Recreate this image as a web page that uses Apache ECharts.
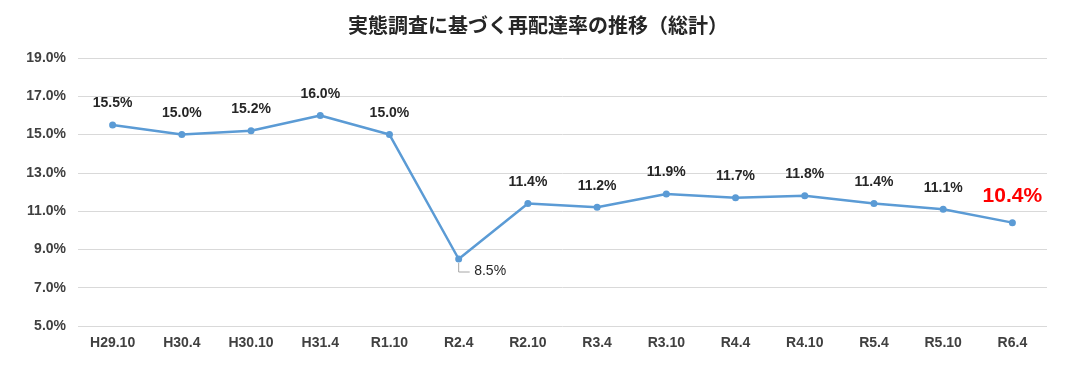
<!DOCTYPE html>
<html><head><meta charset="utf-8">
<script src="https://cdn.jsdelivr.net/npm/echarts@6/dist/echarts.min.js"></script>
<style>html,body{margin:0;padding:0;background:#fff}#c{width:1080px;height:384px}</style>
</head><body><div id="c"></div>
<script>
const categories = ['H29.10','H30.4','H30.10','H31.4','R1.10','R2.4','R2.10','R3.4','R3.10','R4.4','R4.10','R5.4','R5.10','R6.4'];
const values = [15.5,15.0,15.2,16.0,15.0,8.5,11.4,11.2,11.9,11.7,11.8,11.4,11.1,10.4];
const yTicks = {min:5, max:19, interval:2};
const title = '実態調査に基づく再配達率の推移（総計）';
const calloutIndex = 5;

const font = '"Liberation Sans", Arial, "Noto Sans CJK JP", sans-serif';
const data = values.map((v,i)=>{
  const d = {value:v};
  if (i === calloutIndex) {
    d.label = {position:[19,16], align:'left', verticalAlign:'middle', fontWeight:'normal', color:'#262626'};
  }
  if (i === values.length-1) {
    d.label = {color:'#FF0000', fontSize:21, distance:12};
  }
  return d;
});
const chart = echarts.init(document.getElementById('c'));
chart.setOption({
  animation:false,
  title:{text:title, left:343, top:10, textStyle:{fontFamily:'"Noto Sans CJK JP", sans-serif', fontSize:20, fontWeight:'bold', color:'#262626'}},
  grid:{left:78, right:33, top:58, bottom:58},
  xAxis:{type:'category', data:categories, boundaryGap:true,
    axisLine:{show:false}, axisTick:{show:false},
    axisLabel:{fontFamily:font, fontSize:14, fontWeight:'bold', color:'#404040', margin:10}},
  yAxis:{type:'value', min:yTicks.min, max:yTicks.max, interval:yTicks.interval,
    axisLabel:{formatter:v=>v.toFixed(1)+'%', fontFamily:font, fontSize:14, fontWeight:'bold', color:'#404040', margin:12},
    splitLine:{lineStyle:{color:'#d9d9d9', width:1}}},
  series:[{type:'line', data:data, symbol:'circle', symbolSize:7,
    lineStyle:{color:'#5B9BD5', width:2.5}, itemStyle:{color:'#5B9BD5'},
    label:{show:true, position:'top', distance:11, formatter:p=>p.value.toFixed(1)+'%',
      fontFamily:font, fontSize:14, fontWeight:'bold', color:'#262626'}
  }]
});
// leader line for the callout label, positioned from the library's own scales
const p = chart.convertToPixel({seriesIndex:0}, [calloutIndex, values[calloutIndex]]);
chart.setOption({graphic:[{type:'polyline', silent:true, z:1,
  shape:{points:[[p[0], p[1]+4],[p[0], p[1]+13],[p[0]+11, p[1]+13]]},
  style:{stroke:'#a6a6a6', lineWidth:1, fill:null}}]});
</script></body></html>
